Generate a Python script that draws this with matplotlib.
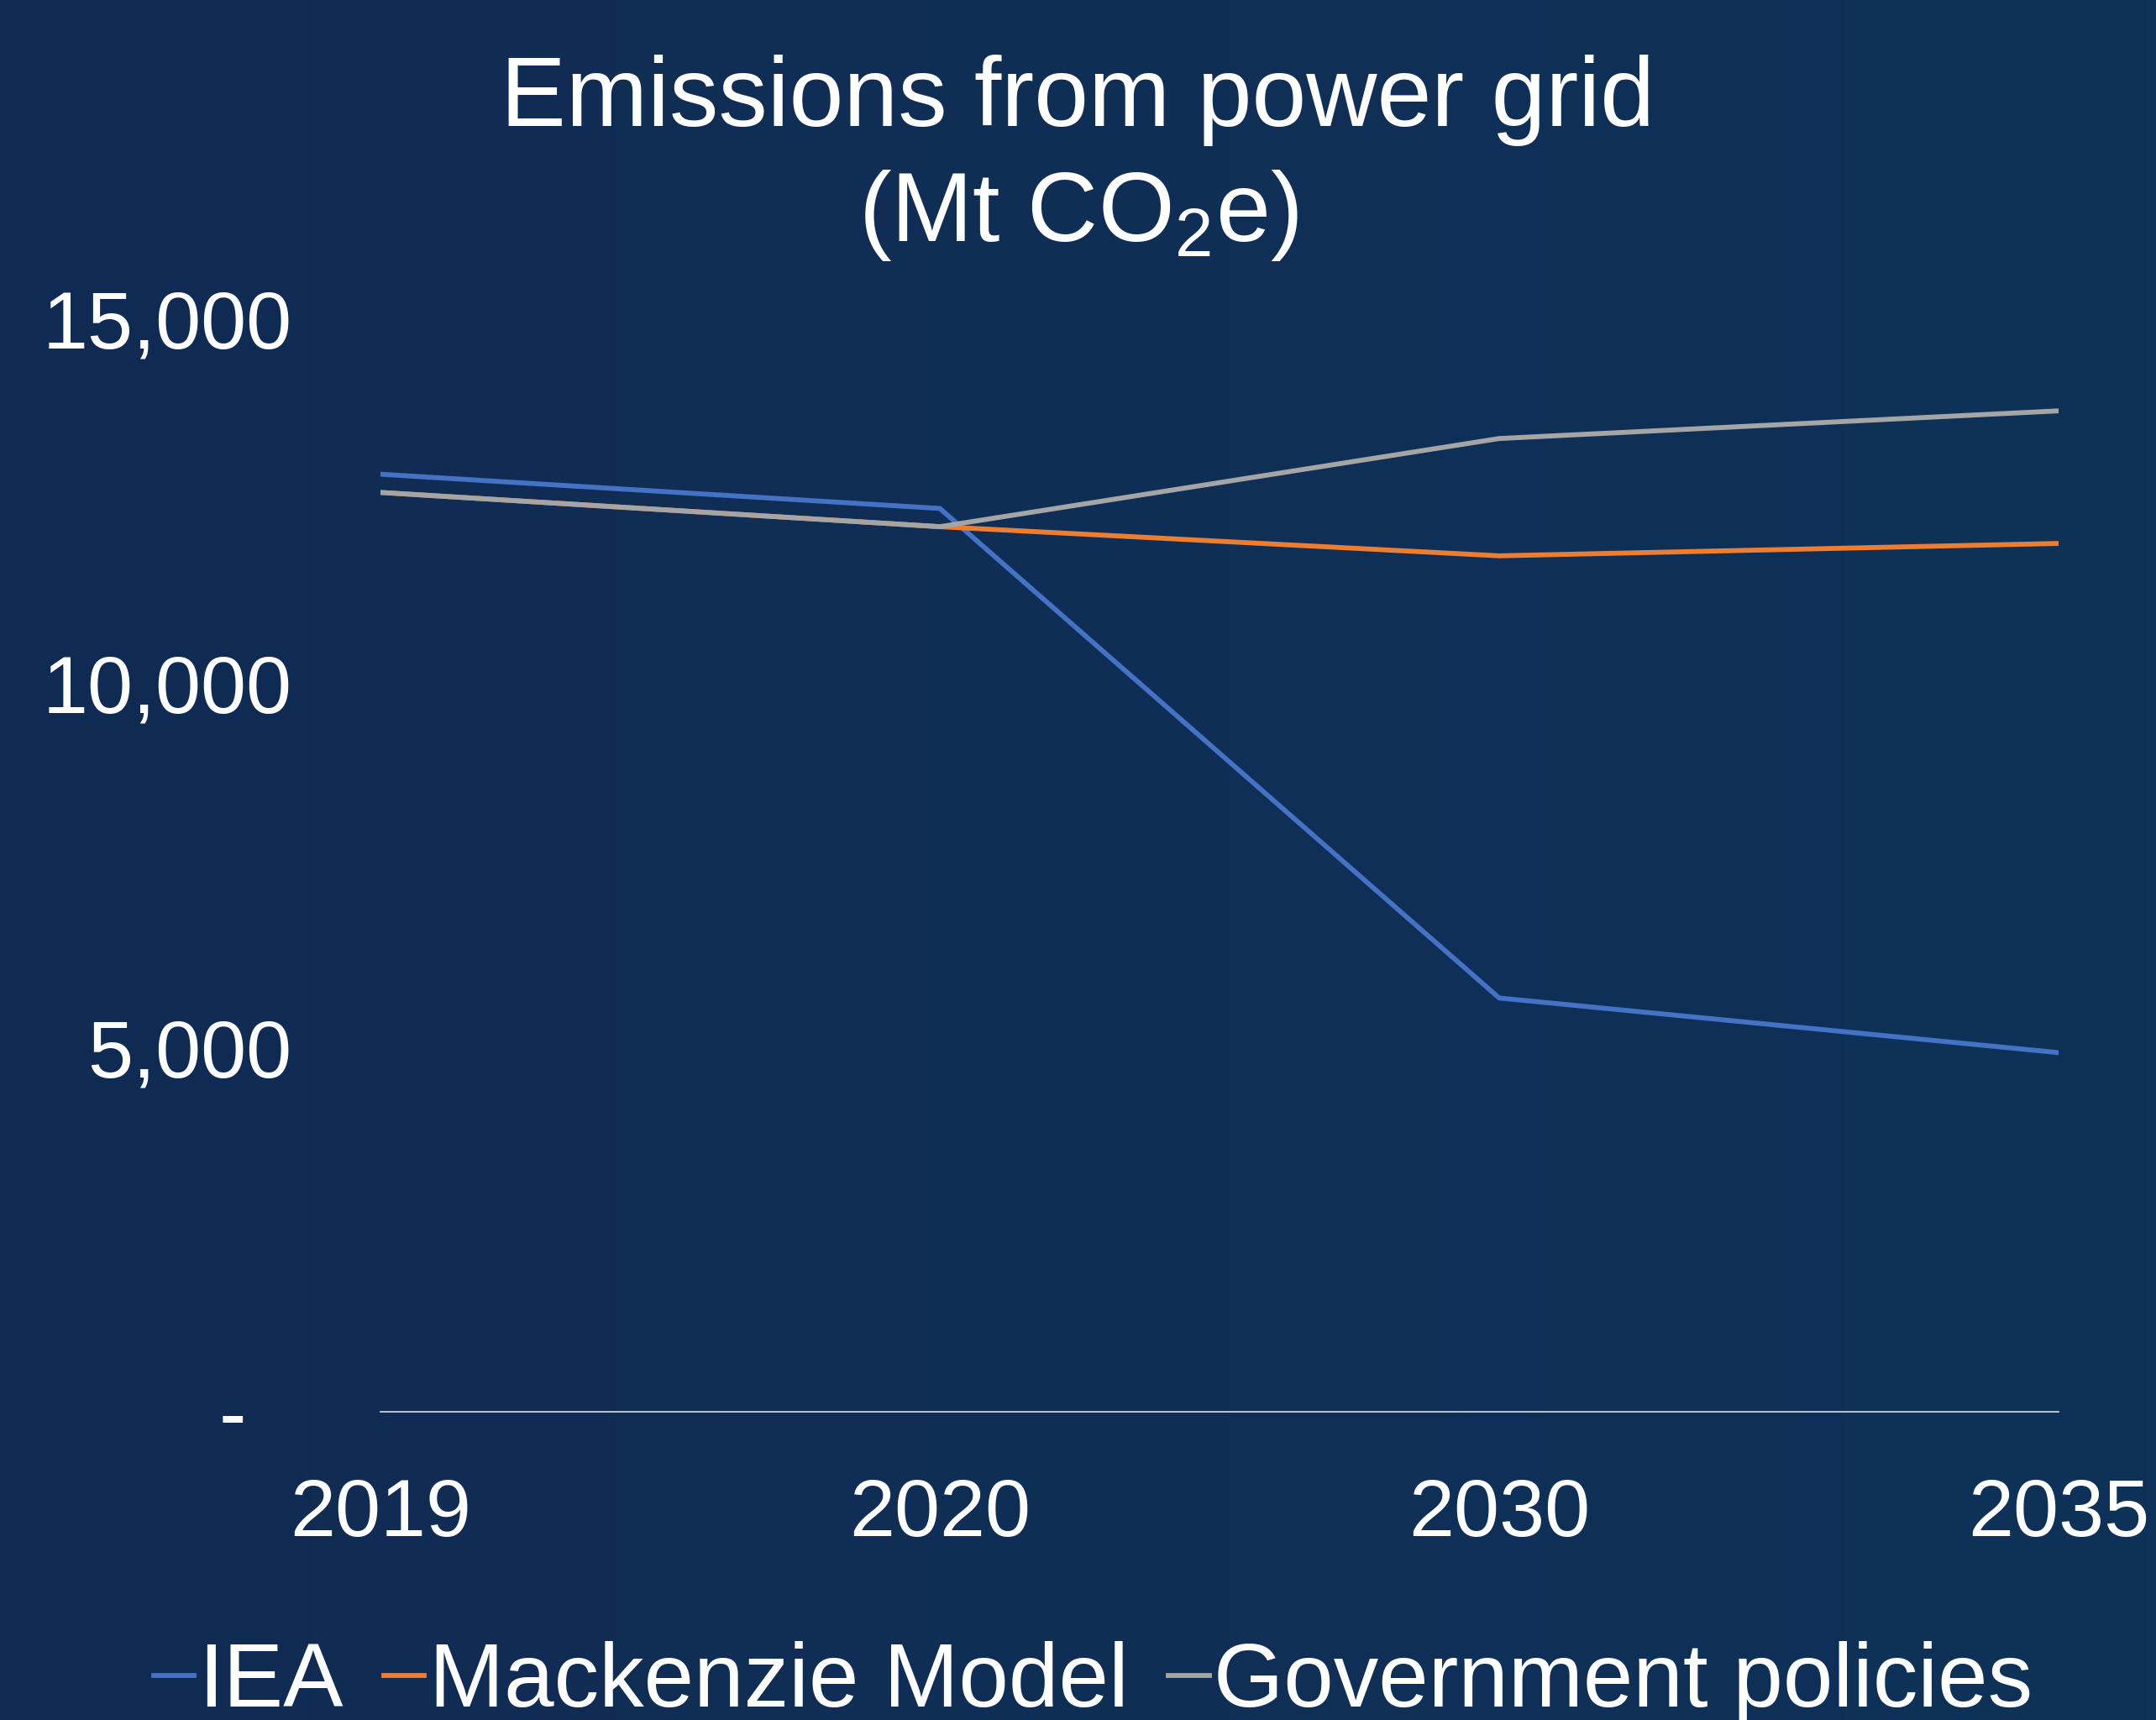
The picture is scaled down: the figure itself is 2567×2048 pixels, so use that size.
import numpy as np
import matplotlib
matplotlib.use("Agg")
import matplotlib.pyplot as plt
from matplotlib.colors import LinearSegmentedColormap

plt.rcParams["font.family"] = ["Liberation Sans", "DejaVu Sans"]
plt.rcParams["mathtext.fontset"] = "custom"
plt.rcParams["mathtext.rm"] = "Liberation Sans"
plt.rcParams["mathtext.it"] = "Liberation Sans"

years = ["2019", "2020", "2030", "2035"]
iea = [12870, 12400, 5680, 4930]
mackenzie = [12620, 12150, 11750, 11920]
government = [12620, 12150, 13360, 13740]

series_names = ["IEA", "Mackenzie Model", "Government policies"]
series_colors = ["#4472c4", "#ed7d31", "#a5a5a5"]
y_ticks = [0, 5000, 10000, 15000]
y_labels = ["-  ", "5,000", "10,000", "15,000"]


def main():
    fig = plt.figure(figsize=(25.67, 20.48), dpi=100)

    # subtle left-to-right background gradient
    bg = fig.add_axes([0, 0, 1, 1], zorder=-10)
    cmap = LinearSegmentedColormap.from_list("bg", ["#112b53", "#0e3259"])
    bg.imshow(np.linspace(0, 1, 256).reshape(1, -1), aspect="auto", cmap=cmap,
              extent=[0, 1, 0, 1])
    bg.set_axis_off()

    ax = fig.add_axes([0.1765, 0.1792, 0.7783, 0.6353])
    ax.set_facecolor("none")

    x = np.arange(len(years))
    for vals, name, col in zip([iea, mackenzie, government], series_names, series_colors):
        ax.plot(x, vals, color=col, lw=4.2, label=name, solid_joinstyle="round")

    ax.set_xlim(0, len(years) - 1)
    ax.set_ylim(0, 15000)
    ax.set_xticks(x)
    ax.set_xticklabels(years)
    ax.set_yticks(y_ticks)
    ax.set_yticklabels(y_labels)
    ax.tick_params(axis="both", length=0, colors="white", labelsize=70)
    ax.tick_params(axis="x", pad=56)
    ax.tick_params(axis="y", pad=76)

    for s in ["top", "right", "left"]:
        ax.spines[s].set_visible(False)
    ax.spines["bottom"].set_color("#d0d0d0")
    ax.spines["bottom"].set_linewidth(1.3)

    fig.text(0.5, 0.927, "Emissions from power grid", ha="center", va="baseline",
             color="white", fontsize=84)
    fig.text(0.5, 0.86, r"(Mt CO$_\mathregular{2}$e)", ha="center", va="baseline",
             color="white", fontsize=84)

    leg = fig.legend(loc="lower center", bbox_to_anchor=(0.507, -0.05), ncol=3,
                     frameon=False, fontsize=77, handlelength=0.45,
                     handletextpad=0.05, columnspacing=0.45)
    for t in leg.get_texts():
        t.set_color("white")
    for h in leg.legend_handles:
        h.set_linewidth(4.2)

    fig.savefig("out.png", dpi=100)


if __name__ == "__main__":
    main()
